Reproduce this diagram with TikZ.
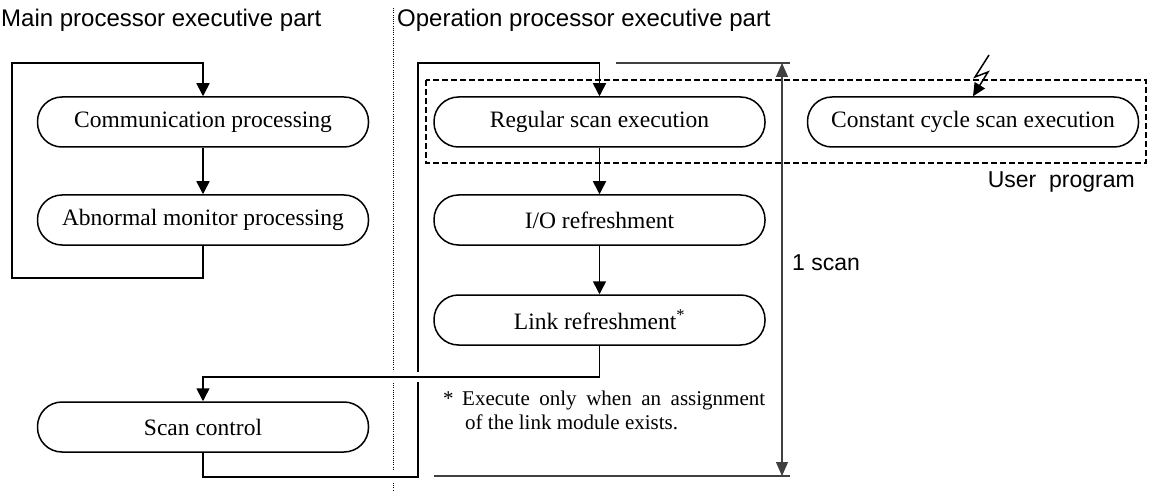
\documentclass[tikz,border=0pt]{standalone}
\usepackage{fontspec}
\setmainfont{Liberation Serif}
\setsansfont{Liberation Sans}
\usetikzlibrary{arrows.meta}
\newcommand{\boxfont}{\rmfamily\fontsize{23.5pt}{28pt}\selectfont}
\newcommand{\notefont}{\rmfamily\fontsize{21pt}{24pt}\selectfont}
\newcommand{\labfont}{\sffamily\fontsize{24pt}{28pt}\selectfont}
\newcommand{\sidefont}{\sffamily\fontsize{23pt}{27pt}\selectfont}
\tikzset{
  proc/.style={draw, line width=1.5pt, rounded corners=24.5pt, minimum width=331pt,
    minimum height=50pt, inner sep=0pt, font=\boxfont},
  flow/.style={line width=1.6pt, -{Triangle[width=13pt,length=13pt]}},
  sep/.style={line width=0.9pt, dash pattern=on 0.9pt off 1.3pt},
  dim/.style={line width=1.1pt, draw=black!75},
  dimarrow/.style={dim, {Triangle[width=12pt,length=14pt]}-{Triangle[width=12pt,length=14pt]}},
  grp/.style={line width=1.5pt, dash pattern=on 6pt off 3pt},
  lab/.style={font=\labfont, inner sep=0pt},
  side/.style={font=\sidefont, inner sep=0pt},
  note/.style={font=\notefont, inner sep=0pt, anchor=base west},
}
\begin{document}
\begin{tikzpicture}[x=1pt, y=-1pt]
\useasboundingbox (0,0) rectangle (1152,492);
% titles
\node[lab, anchor=base west] (t1) at (1,27) {Main processor executive part};
\node[lab, anchor=base west] (t2) at (397,27) {Operation processor executive part};
% separator
\coordinate (s0) at (393,8);
\coordinate (s1) at (393,371);
\coordinate (s2) at (393,383);
\coordinate (s3) at (393,470);
\coordinate (s4) at (393,483);
\coordinate (s5) at (393,492);
\draw[sep] (s0) -- (s1);
\draw[sep] (s2) -- (s3);
\draw[sep] (s4) -- (s5);
% boxes
\node[proc] (comm) at (203,122) {Communication processing};
\node[proc] (abn) at (203,220) {Abnormal monitor processing};
\node[proc] (scan) at (203,427) {Scan control};
\node[proc] (reg) at (599.5,122) {Regular scan execution};
\node[proc] (io) at (599.5,220) {I/O refreshment};
\node[proc] (link) at (599.5,320) {Link refreshment\textsuperscript{*}};
\node[proc] (const) at (973,122) {Constant cycle scan execution};
% user program group
\coordinate (g1) at (426,80);
\coordinate (g2) at (1146,163);
\draw[grp] (g1) rectangle (g2);
\node[side, anchor=base east] (up) at (1135,188) {User\ \ program};
% left loop
\coordinate (l1) at (12,278);
\coordinate (l2) at (12,63);
\draw[flow] (abn.south) |- (l1) -- (l2) -| (comm.north);
\draw[flow] (comm.south) -- (abn.north);
% right loop
\coordinate (r1) at (418,477);
\coordinate (r2) at (418,63);
\draw[flow] (scan.south) |- (r1) -- (r2) -| (reg.north);
\coordinate (b1) at (418,372);
\coordinate (b2) at (418,382);
\draw[white, line width=5pt] (b1) -- (b2);
\draw[flow] (reg.south) -- (io.north);
\draw[flow] (io.south) -- (link.north);
\coordinate (m) at (203,377);
\draw[flow] (link.south) |- (m) -- (scan.north);
% 1 scan
\coordinate (st) at (782,63);
\coordinate (sb) at (782,476);
\coordinate (tl) at (616,63);
\coordinate (tr) at (790,63);
\coordinate (bl) at (434,476);
\coordinate (br) at (790,476);
\draw[dim] (tl) -- (tr);
\draw[dim] (bl) -- (br);
\draw[dimarrow] (st) -- (sb);
\node[side, anchor=base west] (one) at (792,270) {1 scan};
% interrupt
\coordinate (z1) at (989,55);
\coordinate (z2) at (975,77);
\coordinate (z3) at (988,72);
\draw[line width=1.5pt, -{Triangle[width=12pt,length=13pt]}] (z1) -- (z2) -- (z3) -- (const.north);
% footnote
\node[note] (star) at (443,405) {*};
\node[note] (note1) at (462,405) {\makebox[303pt][s]{Execute only when an assignment}};
\node[note] (note2) at (465,429) {of the link module exists.};
\end{tikzpicture}
\end{document}
